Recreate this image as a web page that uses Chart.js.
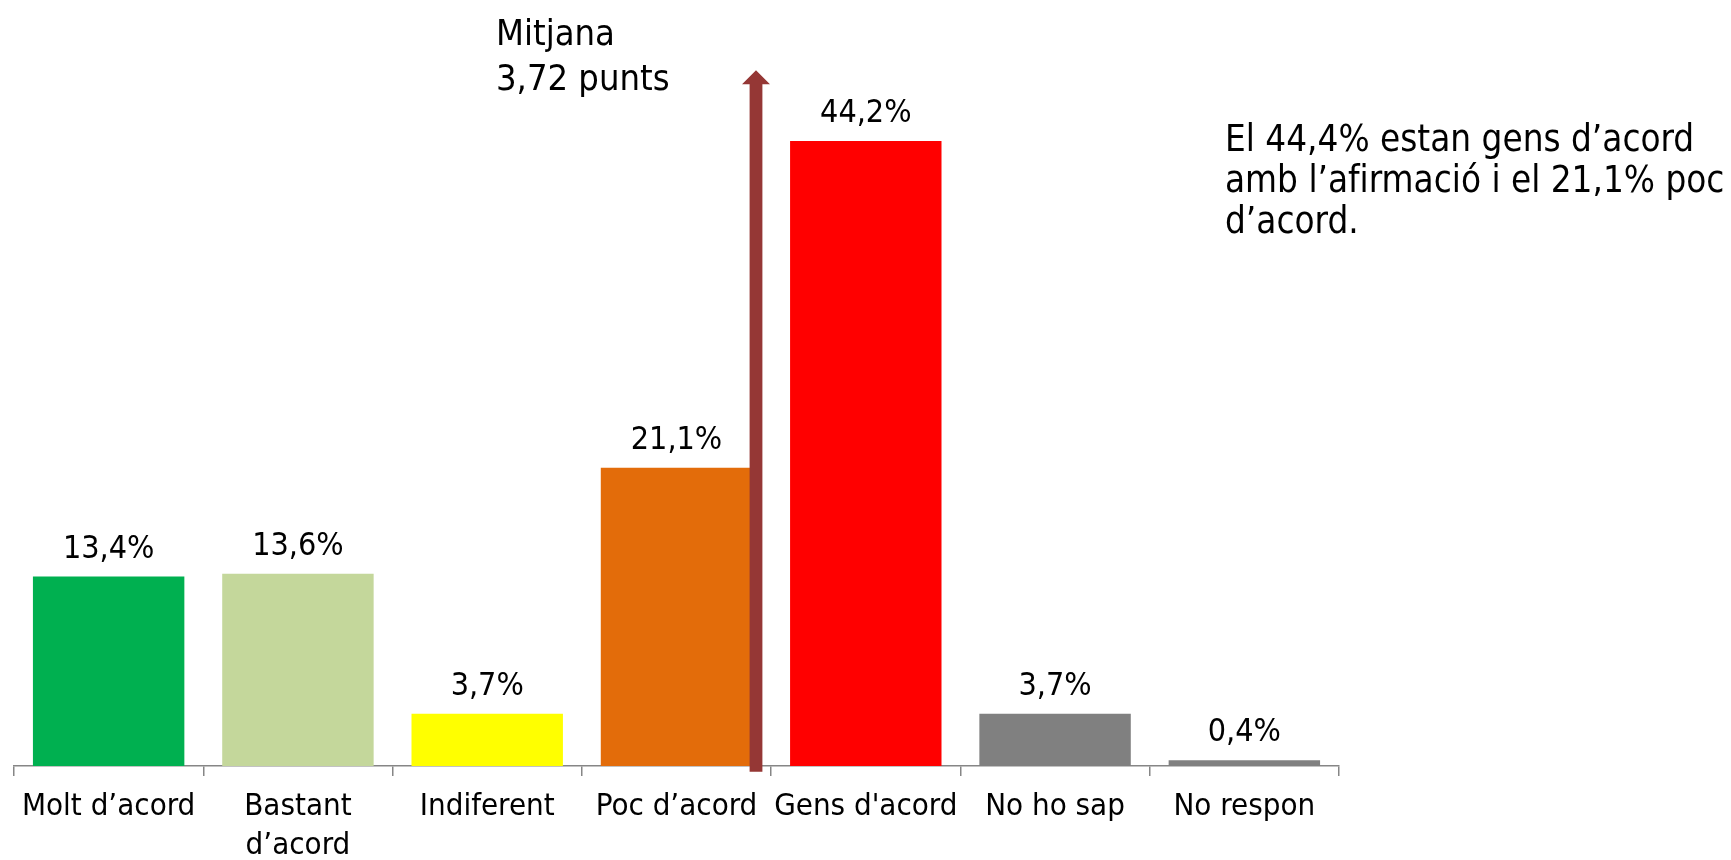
<!DOCTYPE html>
<html lang="ca">
<head>
<meta charset="utf-8">
<title>Grau d'acord</title>
<script src="https://cdn.jsdelivr.net/npm/chart.js@4.4.1/dist/chart.umd.min.js"></script>
<style>
  html, body { margin: 0; padding: 0; background: #fff; overflow: hidden; }
  #wrap { position: relative; width: 1731px; height: 860px; }
  .nota { position: absolute; white-space: pre; color: #000; font-family: 'DejaVu Sans Condensed', 'Liberation Sans Narrow', 'DejaVu Sans', sans-serif; }
  #mitjana { left: 496px; top: 10px; font-size: 36px; line-height: 45px; }
  #comentari { left: 1225px; top: 118px; font-size: 36.5px; line-height: 41px; }
</style>
</head>
<body>
<div id="wrap">
  <canvas id="grafic" width="1731" height="860"></canvas>
  <div class="nota" id="mitjana">Mitjana
3,72 punts</div>
  <div class="nota" id="comentari">El 44,4% estan gens d’acord
amb l’afirmació i el 21,1% poc
d’acord.</div>
</div>
<script>
// ==============================
// Dades
// ==============================
const categories = ['Molt d’acord', ['Bastant', 'd’acord'], 'Indiferent', 'Poc d’acord', 'Gens d\'acord', 'No ho sap', 'No respon'];
const percentatges = [13.4, 13.6, 3.7, 21.1, 44.2, 3.7, 0.4];
const colors = ['#00B050', '#C4D79B', '#FFFF00', '#E36C0A', '#FF0000', '#808080', '#808080'];

// fletxa de la mitjana (posició en unitats de categoria i de %)
const fletxaX = 3.42;
const fletxaDalt = 49.2;
const fletxaBaix = -0.4;

const fontLabels = "'DejaVu Sans Condensed', 'Liberation Sans Narrow', 'DejaVu Sans', sans-serif";

// Etiquetes de valor sobre cada barra
const etiquetesPlugin = {
  id: 'etiquetes',
  afterDatasetsDraw(chart) {
    const ctx = chart.ctx;
    const meta = chart.getDatasetMeta(0);
    ctx.save();
    ctx.font = '32px ' + fontLabels;
    ctx.fillStyle = '#000';
    ctx.textAlign = 'center';
    ctx.textBaseline = 'alphabetic';
    meta.data.forEach((bar, i) => {
      const txt = percentatges[i].toFixed(1).replace('.', ',') + '%';
      ctx.fillText(txt, bar.x, bar.y - 19);
    });
    ctx.restore();
  }
};

// Fletxa vertical de la mitjana
const fletxaPlugin = {
  id: 'fletxa',
  afterDatasetsDraw(chart) {
    const ctx = chart.ctx;
    const x = chart.scales.x.getPixelForValue(fletxaX);
    const yTop = chart.scales.y.getPixelForValue(fletxaDalt);
    const yBot = chart.scales.y.getPixelForValue(fletxaBaix);
    const cos = 6.4, cap = 14, ampleCap = 14;
    ctx.save();
    ctx.fillStyle = '#953735';
    ctx.beginPath();
    ctx.moveTo(x, yTop);
    ctx.lineTo(x + ampleCap, yTop + cap);
    ctx.lineTo(x + cos, yTop + cap);
    ctx.lineTo(x + cos, yBot);
    ctx.lineTo(x - cos, yBot);
    ctx.lineTo(x - cos, yTop + cap);
    ctx.lineTo(x - ampleCap, yTop + cap);
    ctx.closePath();
    ctx.fill();
    ctx.restore();
  }
};

new Chart(document.getElementById('grafic').getContext('2d'), {
  type: 'bar',
  data: {
    labels: categories,
    datasets: [{
      data: percentatges,
      backgroundColor: colors,
      borderWidth: 0,
      barPercentage: 0.8,
      categoryPercentage: 1.0
    }]
  },
  options: {
    responsive: false,
    animation: false,
    layout: { padding: { left: 14, right: 392, top: 59, bottom: 0 } },
    plugins: { legend: { display: false }, tooltip: { enabled: false } },
    scales: {
      x: {
        afterFit(scale) { scale.height = 94; },
        grid: { drawOnChartArea: false, drawTicks: true, tickLength: 10, color: '#868686', lineWidth: 1.5 },
        border: { display: true, color: '#868686', width: 1.5 },
        ticks: {
          color: '#000',
          padding: 12,
          maxRotation: 0,
          autoSkip: false,
          font: { family: fontLabels, size: 31, lineHeight: 1.25 }
        }
      },
      y: {
        display: false,
        min: 0,
        max: 50
      }
    }
  },
  plugins: [etiquetesPlugin, fletxaPlugin]
});
</script>
</body>
</html>
